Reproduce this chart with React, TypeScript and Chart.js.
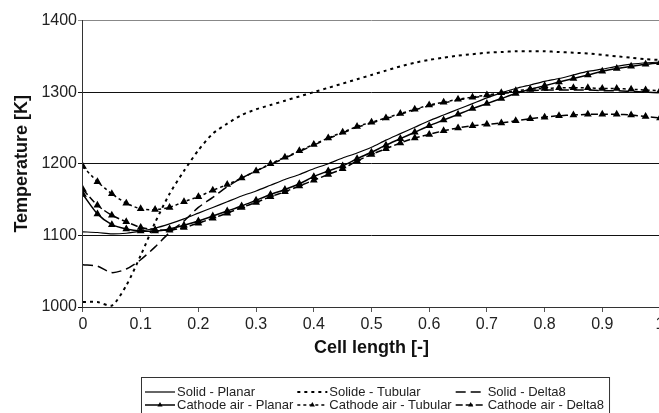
import React, { useEffect, useRef } from "react";
import { Chart, registerables } from "chart.js";

Chart.register(...registerables);

// Cell length positions [-]
const X_VALUES = [
  0, 0.025, 0.05, 0.075, 0.1, 0.125, 0.15, 0.175, 0.2, 0.225,
  0.25, 0.275, 0.3, 0.325, 0.35, 0.375, 0.4, 0.425, 0.45, 0.475,
  0.5, 0.525, 0.55, 0.575, 0.6, 0.625, 0.65, 0.675, 0.7, 0.725,
  0.75, 0.775, 0.8, 0.825, 0.85, 0.875, 0.9, 0.925, 0.95, 0.975, 1,
];

// Temperatures [K]
const SOLID_PLANAR = [
  1105, 1104, 1102, 1103, 1106, 1110, 1116, 1123, 1131, 1139,
  1147, 1155, 1162, 1170, 1178, 1185, 1193, 1200, 1208, 1215,
  1223, 1233, 1242, 1251, 1260, 1268, 1276, 1284, 1292, 1299,
  1305, 1310, 1315, 1319, 1324, 1329, 1332, 1336, 1339, 1341, 1342,
];

const SOLIDE_TUBULAR = [
  1007, 1007, 1002, 1030, 1072, 1118, 1158, 1190, 1219, 1242,
  1256, 1268, 1276, 1282, 1288, 1294, 1300, 1306, 1312, 1318,
  1324, 1330, 1336, 1341, 1345, 1348, 1351, 1353, 1355, 1356,
  1357, 1357, 1357, 1356, 1355, 1354, 1352, 1350, 1348, 1346, 1345,
];

const SOLID_DELTA8 = [
  1059, 1057, 1048, 1053, 1066, 1084, 1104, 1120, 1139, 1153,
  1168, 1180, 1190, 1199, 1208, 1217, 1226, 1235, 1243, 1251,
  1257, 1263, 1269, 1275, 1281, 1285, 1289, 1292, 1295, 1298,
  1300, 1302, 1303, 1303, 1303, 1303, 1302, 1302, 1301, 1300, 1299,
];

const CATHODE_PLANAR = [
  1157, 1130, 1115, 1109, 1106, 1106, 1109, 1114, 1120, 1127,
  1134, 1141, 1149, 1157, 1164, 1172, 1182, 1190, 1197, 1207,
  1216, 1226, 1235, 1244, 1253, 1261, 1269, 1277, 1284, 1291,
  1298, 1304, 1309, 1314, 1319, 1324, 1329, 1333, 1336, 1339, 1341,
];

const CATHODE_TUBULAR = [
  1196, 1175, 1158, 1145, 1137, 1136, 1139, 1147, 1154, 1163,
  1171, 1180, 1190, 1200, 1209, 1218, 1227, 1236, 1244, 1252,
  1258, 1264, 1270, 1276, 1282, 1286, 1290, 1293, 1296, 1299,
  1302, 1304, 1305, 1306, 1306, 1306, 1305, 1305, 1304, 1303, 1302,
];

const CATHODE_DELTA8 = [
  1164, 1142, 1128, 1119, 1111, 1108, 1107, 1111, 1117, 1124,
  1131, 1139, 1146, 1154, 1161, 1169, 1177, 1185, 1193, 1204,
  1213, 1221, 1229, 1236, 1241, 1246, 1250, 1253, 1255, 1257,
  1260, 1263, 1265, 1267, 1268, 1269, 1269, 1269, 1268, 1266, 1264,
];

const SERIES_LABELS = [
  "Solid - Planar",
  "Solide - Tubular",
  "Solid - Delta8",
  "Cathode air - Planar",
  "Cathode air - Tubular",
  "Cathode air - Delta8",
];

const X_TITLE = "Cell length [-]";
const Y_TITLE = "Temperature [K]";

const FONT = '"Liberation Sans", Arial, Helvetica, sans-serif';

const toPoints = (vals: number[]) => X_VALUES.map((x, i) => ({ x, y: vals[i] }));

const boxLegend = {
  id: "boxLegend",
  afterDraw(chart: any) {
    const ctx = chart.ctx as CanvasRenderingContext2D;
    const area = chart.chartArea;
    const left = area.left + 58;
    const top = 377;
    const height = 40;
    const sampleW = 30;
    const gap = 2;
    const colGap = 4;
    ctx.save();
    ctx.font = `13px ${FONT}`;
    ctx.textBaseline = "middle";
    ctx.textAlign = "left";
    const ds = chart.data.datasets;
    const colW = [0, 0, 0];
    ds.forEach((d: any, i: number) => {
      colW[i % 3] = Math.max(colW[i % 3], ctx.measureText(d.label).width);
    });
    const cols = [left + 4];
    cols.push(cols[0] + sampleW + gap + colW[0] + colGap);
    cols.push(cols[1] + sampleW + gap + colW[1] + colGap);
    const width = cols[2] + sampleW + gap + colW[2] + 5 - left;
    ctx.fillStyle = "#fff";
    ctx.fillRect(left, top, width, height);
    ctx.strokeStyle = "#333";
    ctx.lineWidth = 1;
    ctx.setLineDash([]);
    ctx.strokeRect(left + 0.5, top + 0.5, width, height);
    const rows = [top + 15, top + 28];
    ds.forEach((d: any, i: number) => {
      const x0 = cols[i % 3];
      const y = rows[Math.floor(i / 3)];
      ctx.strokeStyle = "#000";
      ctx.lineWidth = d.borderWidth;
      ctx.setLineDash(d.borderDash || []);
      ctx.beginPath();
      ctx.moveTo(x0, y);
      ctx.lineTo(x0 + sampleW, y);
      ctx.stroke();
      ctx.setLineDash([]);
      if (d.pointRadius > 0) {
        const r = d.pointRadius;
        const cx = x0 + sampleW / 2;
        let rad = 0;
        ctx.beginPath();
        ctx.moveTo(cx + Math.sin(rad) * r, y - Math.cos(rad) * r);
        rad += (2 * Math.PI) / 3;
        ctx.lineTo(cx + Math.sin(rad) * r, y - Math.cos(rad) * r);
        rad += (2 * Math.PI) / 3;
        ctx.lineTo(cx + Math.sin(rad) * r, y - Math.cos(rad) * r);
        ctx.closePath();
        ctx.fillStyle = "#000";
        ctx.fill();
      }
      ctx.fillStyle = "#222";
      ctx.fillText(d.label, x0 + sampleW + gap, y);
    });
    ctx.restore();
  },
};

export default function App() {
  const canvasRef = useRef<HTMLCanvasElement | null>(null);

  useEffect(() => {
    if (!canvasRef.current) return;
    const base = {
      borderColor: "#000",
      backgroundColor: "#000",
      pointBackgroundColor: "#000",
      pointBorderColor: "#000",
      fill: false,
      tension: 0.25,
      borderCapStyle: "butt" as const,
    };
    const chart = new Chart(canvasRef.current, {
      type: "line",
      data: {
        datasets: [
          { ...base, label: SERIES_LABELS[0], data: toPoints(SOLID_PLANAR), borderWidth: 1.2, borderDash: [], pointRadius: 0 },
          { ...base, label: SERIES_LABELS[1], data: toPoints(SOLIDE_TUBULAR), borderWidth: 2, borderDash: [3, 4], pointRadius: 0 },
          { ...base, label: SERIES_LABELS[2], data: toPoints(SOLID_DELTA8), borderWidth: 1.5, borderDash: [10, 5], pointRadius: 0 },
          { ...base, label: SERIES_LABELS[3], data: toPoints(CATHODE_PLANAR), borderWidth: 1.5, borderDash: [], pointRadius: 3, pointStyle: "triangle" },
          { ...base, label: SERIES_LABELS[4], data: toPoints(CATHODE_TUBULAR), borderWidth: 1.5, borderDash: [3, 3], pointRadius: 3, pointStyle: "triangle" },
          { ...base, label: SERIES_LABELS[5], data: toPoints(CATHODE_DELTA8), borderWidth: 1.5, borderDash: [7, 3], pointRadius: 3, pointStyle: "triangle" },
        ],
      },
      options: {
        responsive: false,
        animation: false,
        devicePixelRatio: 1,
        layout: { padding: { left: 11, right: 20, top: 20.5, bottom: 50.2 } },
        plugins: {
          legend: { display: false },
          tooltip: { enabled: false },
        },
        scales: {
          x: {
            type: "linear",
            min: 0,
            max: 1,
            ticks: {
              stepSize: 0.1,
              color: "#222",
              font: { family: FONT, size: 16 },
              padding: 3,
              maxRotation: 0,
              autoSkip: false,
              callback: (v: any) => String(Math.round(Number(v) * 10) / 10),
            },
            grid: { drawOnChartArea: false, drawTicks: true, tickLength: 5, color: "#555" },
            border: { display: true, color: "#333", width: 1 },
            title: {
              display: true,
              text: X_TITLE,
              color: "#111",
              font: { family: FONT, size: 18, weight: "bold" },
              padding: { top: 0, bottom: 4 },
            },
          },
          y: {
            type: "linear",
            min: 1000,
            max: 1400,
            ticks: {
              stepSize: 100,
              color: "#222",
              font: { family: FONT, size: 16 },
              padding: 1,
              callback: (v: any) => String(Math.round(Number(v))),
            },
            grid: {
              drawOnChartArea: true,
              drawTicks: true,
              tickLength: 5,
              color: (c: any) => (c.tick && c.tick.value === 1400 ? "#888" : "#111"),
              lineWidth: 1,
            },
            border: { display: true, color: "#333", width: 1 },
            title: {
              display: true,
              text: Y_TITLE,
              color: "#111",
              font: { family: FONT, size: 18, weight: "bold" },
              padding: { top: 0, bottom: 7.8 },
            },
          },
        },
      },
      plugins: [boxLegend],
    });
    return () => chart.destroy();
  }, []);

  return (
    <div
      style={{
        position: "fixed",
        left: 0,
        top: 0,
        width: 659,
        height: 413,
        overflow: "hidden",
        background: "#fff",
      }}
    >
      <canvas ref={canvasRef} width={680} height={413} style={{ display: "block", width: 680, height: 413 }} />
    </div>
  );
}
